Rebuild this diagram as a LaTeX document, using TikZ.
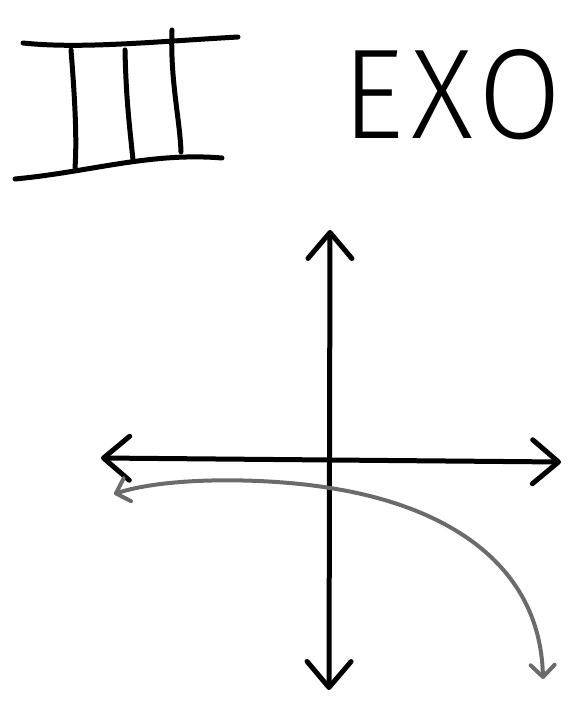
\documentclass[tikz,border=0pt]{standalone}
\usepackage{fontspec}
\usepackage{xcolor}
\usetikzlibrary{arrows.meta,positioning}
\newfontfamily\exofont{Fira Sans Light}[LetterSpace=6]
\definecolor{pengray}{HTML}{6B6B6B}

\begin{document}
\begin{tikzpicture}[x=1pt, y=-1pt, line cap=round, line join=round,
  pen/.style={line width=5pt, black},
  axis/.style={pen, {Straight Barb[round, length=26pt, width=44pt]}-{Straight Barb[round, length=26pt, width=44pt]}},
  curve/.style={line width=4pt, pengray, {Straight Barb[round, length=12pt, width=24pt]}-{Straight Barb[round, length=12pt, width=24pt]}}]
\useasboundingbox (0,0) rectangle (582,708);
% sign on the top left
\draw[pen] (23,43) .. controls (80,49) and (150,42) .. (238,37);
\draw[pen] (15,179) .. controls (90,172) and (150,152) .. (222,158);
\draw[pen] (71,50) .. controls (75,100) and (77,140) .. (75,168);
\draw[pen] (125,50) .. controls (126,100) and (130,130) .. (133,160);
\draw[pen] (172,30) .. controls (170,80) and (180,120) .. (181,152);
% the word
\node[anchor=base west, inner sep=0pt, font=\exofont\fontsize{128}{128}\selectfont, xscale=0.94] (exo) at (342,139) {EXO};
% axes
\coordinate (yTop) at (330,230);
\coordinate (yBot) at (329,690);
\coordinate (xLeft) at (101,458);
\coordinate (xRight) at (561,462);
\draw[axis] (yBot) -- (yTop);
\draw[axis] (xLeft) -- (xRight);
% grey curve
\coordinate (cStart) at (114,494);
\coordinate (cMid) at (330,488);
\coordinate (cEnd) at (543,679);
\draw[curve] (cStart) .. controls (170,476) and (270,478) .. (cMid)
  .. controls (440,505) and (540,560) .. (cEnd);
\end{tikzpicture}
\end{document}
